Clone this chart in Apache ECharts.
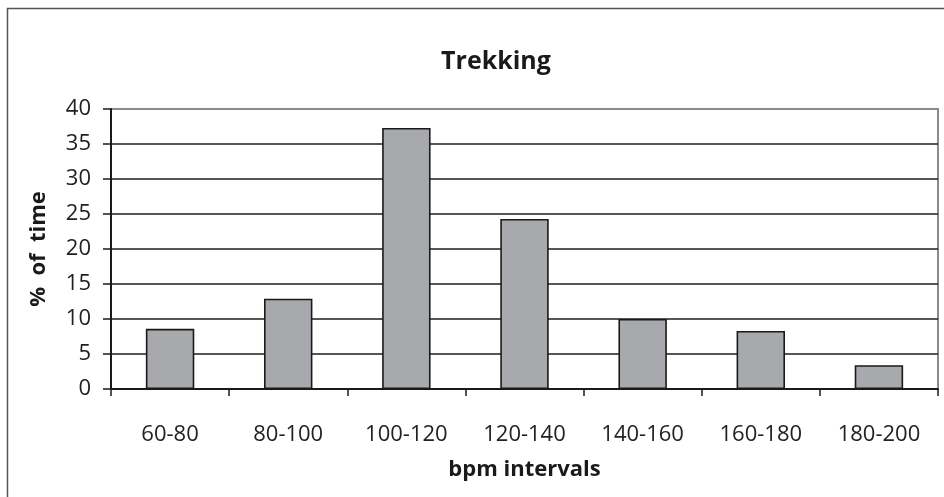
<!DOCTYPE html>
<html>
<head>
<meta charset="utf-8">
<script src="https://cdn.jsdelivr.net/npm/echarts@6/dist/echarts.min.js"></script>
<style>
html,body{margin:0;padding:0;background:#fff;}
#c{width:944px;height:497px;}
</style>
</head>
<body>
<div id="c"></div>
<script>
const categories = ['60-80', '80-100', '100-120', '120-140', '140-160', '160-180', '180-200'];
const values = [8.6, 12.9, 37.3, 24.3, 10.0, 8.3, 3.4];
const titleText = 'Trekking';
const xName = 'bpm intervals';
const yName = '%  of  time';

const FONT = '"Open Sans", "Noto Sans", sans-serif';
const chart = echarts.init(document.getElementById('c'), null, {renderer: 'canvas'});
chart.setOption({
  animation: false,
  backgroundColor: '#fff',
  textStyle: {fontFamily: FONT},
  title: {
    text: titleText,
    left: 491,
    top: 44,
    textAlign: 'center',
    textStyle: {fontSize: 25, fontWeight: 'bold', color: '#1a1a1a', fontFamily: FONT}
  },
  graphic: [{
    type: 'rect',
    shape: {x: 7.5, y: 8.5, width: 1000, height: 1000},
    style: {fill: 'none', stroke: '#555', lineWidth: 1.5},
    z: 100
  }],
  grid: {
    left: 111, right: 6, top: 109, bottom: 108,
    show: true, borderColor: '#8a8a8a', borderWidth: 2, backgroundColor: 'transparent'
  },
  xAxis: {
    type: 'category',
    data: categories,
    name: xName,
    nameLocation: 'middle',
    nameGap: 70,
    nameTextStyle: {fontSize: 22, fontWeight: 'bold', color: '#1a1a1a', fontFamily: FONT},
    axisLine: {lineStyle: {color: '#1a1a1a', width: 2}},
    axisTick: {show: true, length: 7, lineStyle: {color: '#1a1a1a', width: 1.5}},
    axisLabel: {fontSize: 22, color: '#222', margin: 35, fontFamily: FONT},
    z: 10
  },
  yAxis: {
    type: 'value',
    min: 0, max: 40, interval: 5,
    name: yName,
    nameLocation: 'middle',
    nameGap: 61,
    nameRotate: 90,
    nameTextStyle: {fontSize: 22, fontWeight: 'bold', color: '#1a1a1a', fontFamily: FONT},
    axisLine: {show: true, lineStyle: {color: '#1a1a1a', width: 2}},
    axisTick: {show: true, length: 8, lineStyle: {color: '#1a1a1a', width: 1.5}},
    axisLabel: {fontSize: 22, color: '#222', margin: 20, fontFamily: FONT},
    splitLine: {show: true, showMinLine: false, showMaxLine: false, lineStyle: {color: '#1e1e1e', width: 1.6}}
  },
  series: [{
    type: 'bar',
    data: values,
    barWidth: '41%',
    itemStyle: {color: '#a8a9ad', borderColor: '#1a1a1a', borderWidth: 1.6},
    z: 5
  }]
});
</script>
</body>
</html>
